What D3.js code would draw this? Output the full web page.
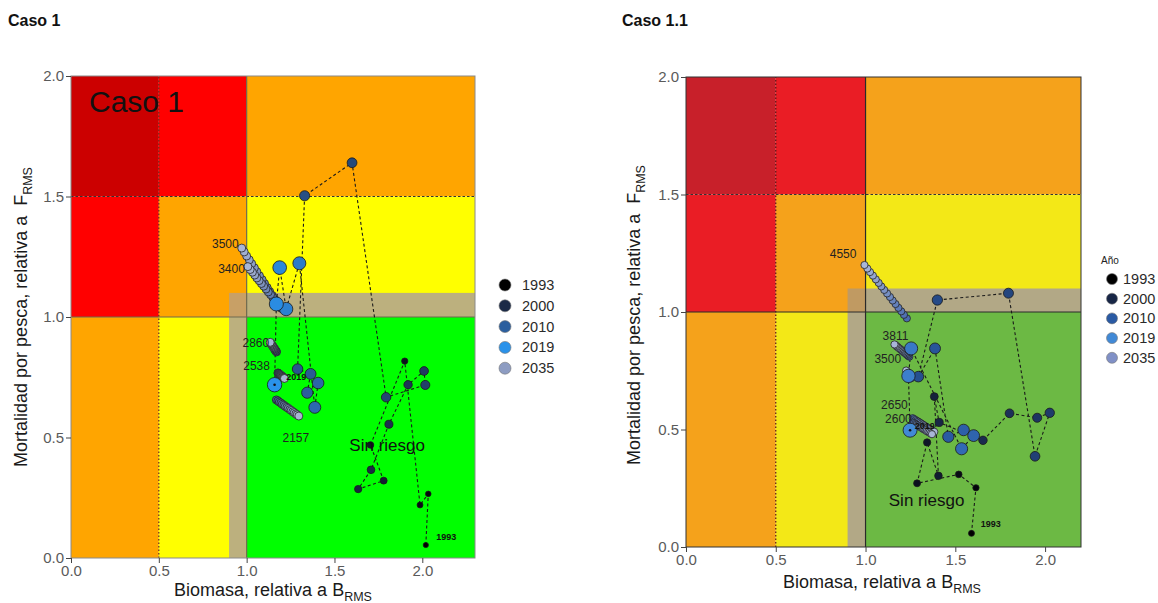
<!DOCTYPE html>
<html>
<head>
<meta charset="utf-8">
<script src="https://cdn.jsdelivr.net/npm/d3@7"></script>
<style>
body { margin: 0; background: #fff; }
svg { display: block; font-family: "Liberation Sans", Arial, sans-serif; }
</style>
</head>
<body>
<svg id="chart" width="1158" height="603"></svg>
<script>
// ---- data ----
var legendYears = [1993, 2000, 2010, 2019, 2035];
var xTicks = [0, 0.5, 1, 1.5, 2];
var yTicks = [0, 0.5, 1, 1.5, 2];
var projYears = [2020, 2021, 2022, 2023, 2024, 2025, 2026, 2027, 2028, 2029, 2030, 2031, 2032, 2033, 2034, 2035];

// Caso 1: historical trajectory (B/Brms, F/Frms)
var c1Years = [1993, 1994, 1995, 1996, 1997, 1998, 1999, 2000, 2001, 2002, 2003, 2004, 2005,
               2006, 2007, 2008, 2009, 2010, 2011, 2012, 2015, 2016, 2017, 2018, 2019];
var c1B = [2.02, 2.034, 1.987, 1.90, 1.705, 1.78, 1.635, 1.708, 1.81, 1.919, 2.01, 2.017, 1.794,
           1.60, 1.33, 1.29, 1.364, 1.345, 1.407, 1.388, 1.30, 1.225, 1.188, 1.169, 1.159];
var c1F = [0.054, 0.266, 0.22, 0.817, 0.469, 0.321, 0.286, 0.366, 0.555, 0.719, 0.776, 0.718, 0.667,
           1.64, 1.503, 0.784, 0.764, 0.686, 0.726, 0.625, 1.223, 1.033, 1.205, 1.054, 0.719];

// Caso 1: projections by catch level (2020 -> 2035)
var c1ProjLabels = ["3500", "3400", "2860", "2538", "2157"];
var c1ProjB = [
  [1.190, 1.175, 1.160, 1.146, 1.131, 1.117, 1.102, 1.088, 1.073, 1.058, 1.044, 1.029, 1.015, 1.000, 0.986, 0.972],
  [1.200, 1.187, 1.174, 1.161, 1.149, 1.136, 1.123, 1.110, 1.097, 1.084, 1.071, 1.058, 1.046, 1.033, 1.020, 1.007],
  [1.170, 1.168, 1.165, 1.163, 1.160, 1.158, 1.156, 1.153, 1.151, 1.148, 1.146, 1.144, 1.141, 1.139, 1.136, 1.134],
  [1.178, 1.180, 1.183, 1.185, 1.188, 1.190, 1.193, 1.195, 1.198, 1.200, 1.203, 1.205, 1.208, 1.210, 1.213, 1.215],
  [1.169, 1.178, 1.186, 1.195, 1.203, 1.212, 1.220, 1.229, 1.237, 1.246, 1.254, 1.263, 1.271, 1.280, 1.288, 1.297]
];
var c1ProjF = [
  [1.040, 1.056, 1.073, 1.089, 1.106, 1.122, 1.139, 1.155, 1.171, 1.188, 1.204, 1.221, 1.237, 1.253, 1.270, 1.286],
  [1.035, 1.047, 1.058, 1.070, 1.081, 1.093, 1.104, 1.116, 1.128, 1.139, 1.151, 1.162, 1.174, 1.186, 1.197, 1.209],
  [0.855, 0.858, 0.860, 0.863, 0.866, 0.868, 0.871, 0.874, 0.876, 0.879, 0.882, 0.884, 0.887, 0.890, 0.892, 0.895],
  [0.768, 0.766, 0.765, 0.763, 0.762, 0.760, 0.759, 0.757, 0.756, 0.754, 0.753, 0.751, 0.750, 0.748, 0.747, 0.745],
  [0.656, 0.652, 0.647, 0.643, 0.638, 0.634, 0.629, 0.625, 0.621, 0.616, 0.612, 0.607, 0.603, 0.598, 0.594, 0.589]
];

// Caso 1.1: historical trajectory
var c11Years = [1993, 1994, 1995, 1996, 1997, 1998, 1999, 2000, 2001, 2002, 2003, 2004,
                2005, 2006, 2007, 2008, 2009, 2010, 2011, 2012, 2013, 2016, 2017, 2019];
var c11B = [1.59, 1.615, 1.519, 1.287, 1.343, 1.406, 1.383, 1.41, 1.654, 1.802, 1.956, 2.026,
            1.944, 1.796, 1.40, 1.294, 1.387, 1.461, 1.546, 1.602, 1.535, 1.254, 1.239, 1.248];
var c11F = [0.058, 0.252, 0.309, 0.271, 0.445, 0.303, 0.64, 0.53, 0.454, 0.569, 0.55, 0.571,
            0.386, 1.08, 1.051, 0.725, 0.845, 0.469, 0.498, 0.474, 0.418, 0.845, 0.728, 0.497];

// Caso 1.1: projections
var c11ProjLabels = ["4550", "3811", "3500", "2650", "2600"];
var c11ProjB = [
  [1.230, 1.214, 1.199, 1.183, 1.167, 1.151, 1.136, 1.120, 1.104, 1.088, 1.073, 1.057, 1.041, 1.025, 1.010, 0.994],
  [1.244, 1.238, 1.233, 1.227, 1.222, 1.216, 1.211, 1.205, 1.200, 1.194, 1.189, 1.183, 1.178, 1.172, 1.167, 1.161],
  [1.254, 1.252, 1.250, 1.248, 1.247, 1.245, 1.243, 1.241, 1.239, 1.237, 1.235, 1.233, 1.232, 1.230, 1.228, 1.226],
  [1.263, 1.271, 1.279, 1.287, 1.295, 1.303, 1.311, 1.319, 1.327, 1.335, 1.343, 1.351, 1.359, 1.367, 1.375, 1.383],
  [1.263, 1.270, 1.277, 1.284, 1.292, 1.299, 1.306, 1.313, 1.320, 1.327, 1.334, 1.341, 1.349, 1.356, 1.363, 1.370]
];
var c11ProjF = [
  [0.973, 0.988, 1.003, 1.018, 1.034, 1.049, 1.064, 1.079, 1.094, 1.109, 1.124, 1.139, 1.155, 1.170, 1.185, 1.200],
  [0.810, 0.813, 0.817, 0.820, 0.824, 0.827, 0.831, 0.834, 0.838, 0.841, 0.845, 0.848, 0.852, 0.855, 0.859, 0.862],
  [0.718, 0.720, 0.722, 0.725, 0.727, 0.729, 0.731, 0.733, 0.736, 0.738, 0.740, 0.742, 0.744, 0.747, 0.749, 0.751],
  [0.548, 0.544, 0.540, 0.536, 0.533, 0.529, 0.525, 0.521, 0.517, 0.513, 0.509, 0.505, 0.502, 0.498, 0.494, 0.490],
  [0.530, 0.527, 0.523, 0.520, 0.517, 0.513, 0.510, 0.507, 0.503, 0.500, 0.497, 0.493, 0.490, 0.487, 0.483, 0.480]
];

var svg = d3.select("#chart");

function drawPanel(p)
{
    var x = d3.scaleLinear().domain([0, p.xMax]).range(p.xRange);
    var y = d3.scaleLinear().domain([0, 2]).range(p.yRange);
    var g = svg.append("g");
    var xm = p.xMax;

    // stock status zones
    var zones = [
        [0, 0.5, 1.5, 2, p.col.dkred], [0.5, 1, 1.5, 2, p.col.red], [1, xm, 1.5, 2, p.col.orange],
        [0, 0.5, 1, 1.5, p.col.red], [0.5, 1, 1, 1.5, p.col.orange], [1, xm, 1, 1.5, p.col.yellow],
        [0, 0.5, 0, 1, p.col.orange], [0.5, 1, 0, 1, p.col.yellow], [1, xm, 0, 1, p.col.green],
        [0.9, 1, 0, 1, p.col.tan], [1, xm, 1, 1.1, p.col.tan], [0.9, 1, 1, 1.1, p.col.tanOr]
    ];
    g.selectAll("rect.zone").data(zones).enter().append("rect")
        .attr("class", "zone")
        .attr("x", function(d){ return x(d[0]); })
        .attr("y", function(d){ return y(d[3]); })
        .attr("width", function(d){ return x(d[1]) - x(d[0]); })
        .attr("height", function(d){ return y(d[2]) - y(d[3]); })
        .attr("fill", function(d){ return d[4]; });

    // reference lines
    g.append("line").attr("x1", x(0.5)).attr("x2", x(0.5)).attr("y1", y(0)).attr("y2", y(2))
        .attr("stroke", p.col.dot).attr("stroke-width", 1.2).attr("stroke-dasharray", "1.5,2");
    g.append("line").attr("x1", x(0)).attr("x2", x(xm)).attr("y1", y(1.5)).attr("y2", y(1.5))
        .attr("stroke", "#333").attr("stroke-width", 1).attr("stroke-dasharray", "2.5,2");
    g.append("line").attr("x1", x(1)).attr("x2", x(1)).attr("y1", y(0)).attr("y2", y(2))
        .attr("stroke", p.col.ref).attr("stroke-width", 1.2);
    g.append("line").attr("x1", x(0)).attr("x2", x(xm)).attr("y1", y(1)).attr("y2", y(1))
        .attr("stroke", p.col.ref).attr("stroke-width", 1.2);
    g.append("rect").attr("x", x(0)).attr("y", y(2)).attr("width", x(xm) - x(0)).attr("height", y(0) - y(2))
        .attr("fill", "none").attr("stroke", p.col.frame).attr("stroke-width", 1);

    // axes
    var xAxis = d3.axisBottom(x).tickValues(xTicks).tickFormat(d3.format(".1f")).tickSize(5).tickPadding(2);
    var yAxis = d3.axisLeft(y).tickValues(yTicks).tickFormat(d3.format(".1f")).tickSize(5).tickPadding(2);
    var gx = g.append("g").attr("transform", "translate(0," + y(0) + ")").call(xAxis);
    var gy = g.append("g").attr("transform", "translate(" + x(0) + ",0)").call(yAxis);
    [gx, gy].forEach(function(a){
        a.select(".domain").remove();
        a.selectAll(".tick line").attr("stroke", "#444");
        a.selectAll(".tick text").attr("fill", "#5a5a5a").style("font-size", "15px")
            .style("font-family", "'Liberation Sans', Arial, sans-serif");
    });

    // axis titles
    var xt = g.append("text").attr("x", p.xTitle[0]).attr("y", p.xTitle[1]).attr("text-anchor", "middle")
        .attr("fill", "#1a1a1a").style("font-size", "18px");
    xt.append("tspan").text("Biomasa, relativa a B");
    xt.append("tspan").text("RMS").attr("dy", 5).style("font-size", "12.5px");
    var yt = g.append("text").attr("transform", "translate(" + p.yTitle[0] + "," + p.yTitle[1] + ") rotate(-90)")
        .attr("text-anchor", "middle").attr("fill", "#1a1a1a").style("font-size", "18px");
    yt.append("tspan").text("Mortalidad por pesca, relativa a\u00a0 F");
    yt.append("tspan").text("RMS").attr("dy", 5).style("font-size", "12.5px");

    var color = d3.scaleLinear().domain(legendYears).range(p.ramp);
    var radius = d3.scaleLinear().domain([1993, 2019]).range(p.rHist);

    // historical trajectory
    var hist = p.years.map(function(yr, i){ return {year: yr, b: p.B[i], f: p.F[i]}; });
    var line = d3.line().x(function(d){ return x(d.b); }).y(function(d){ return y(d.f); });
    g.append("path").datum(hist).attr("d", line).attr("fill", "none")
        .attr("stroke", "#1a1a1a").attr("stroke-width", 1.1).attr("stroke-dasharray", "3,2.5");

    // projections
    p.projLabels.forEach(function(lab, k){
        var pts = projYears.map(function(yr, i){ return {year: yr, b: p.projB[k][i], f: p.projF[k][i]}; });
        g.append("g").selectAll("circle").data(pts).enter().append("circle")
            .attr("cx", function(d){ return x(d.b); })
            .attr("cy", function(d){ return y(d.f); })
            .attr("r", p.rProj)
            .attr("fill", function(d){ return p.projColor(d.year); })
            .attr("stroke", "#252525").attr("stroke-width", 0.8);
        var o = p.projLab[k];
        var anchorPt = o.end === "last" ? pts[pts.length - 1] : pts[0];
        g.append("text").text(lab)
            .attr("x", x(anchorPt.b) + o.dx).attr("y", y(anchorPt.f) + o.dy)
            .attr("dy", "0.35em").attr("text-anchor", o.anchor)
            .attr("fill", "#222").style("font-size", "12px");
    });

    g.append("g").selectAll("circle").data(hist).enter().append("circle")
        .attr("cx", function(d){ return x(d.b); })
        .attr("cy", function(d){ return y(d.f); })
        .attr("r", function(d){ return radius(d.year); })
        .attr("fill", function(d){ return color(d.year); })
        .attr("stroke", "#1a1a1a").attr("stroke-width", 0.8);
    var last = hist[hist.length - 1];
    g.append("circle").attr("cx", x(last.b)).attr("cy", y(last.f)).attr("r", 1.3).attr("fill", "#111");

    // small year labels
    g.append("text").text("1993").attr("x", x(p.lab1993[0])).attr("y", y(p.lab1993[1]))
        .attr("dy", "0.35em").attr("text-anchor", "middle").attr("fill", "#111")
        .style("font-size", "9px").style("font-weight", "bold");
    g.append("text").text("2019").attr("x", x(p.lab2019[0])).attr("y", y(p.lab2019[1]))
        .attr("dy", "0.35em").attr("text-anchor", "middle").attr("fill", "#111")
        .style("font-size", "9px").style("font-weight", "bold");

    g.append("text").text("Sin riesgo").attr("x", x(p.sinRiesgo[0])).attr("y", y(p.sinRiesgo[1]))
        .attr("dy", "0.35em").attr("text-anchor", "middle").attr("fill", "#111").style("font-size", "17px");

    // legend
    var lg = g.append("g").attr("transform", "translate(" + p.legend[0] + "," + p.legend[1] + ")");
    if (p.legendTitle) {
        lg.append("text").text(p.legendTitle).attr("x", -11).attr("y", -19).attr("dy", "0.35em")
            .attr("fill", "#222").style("font-size", "10px");
    }
    legendYears.forEach(function(yr, i){
        lg.append("circle").attr("cx", 0).attr("cy", i * p.legendStep).attr("r", p.legendR)
            .attr("fill", color(yr)).attr("stroke", "#777").attr("stroke-width", 0.6);
        lg.append("text").text(yr).attr("x", p.legendText).attr("y", i * p.legendStep).attr("dy", "0.35em")
            .attr("fill", "#2a2a2a").style("font-size", "14.5px");
    });
    return {x: x, y: y, g: g};
}

// panel titles
svg.append("text").text("Caso 1").attr("x", 8).attr("y", 26)
    .style("font-size", "16px").style("font-weight", "bold").attr("fill", "#111");
svg.append("text").text("Caso 1.1").attr("x", 622).attr("y", 26)
    .style("font-size", "16px").style("font-weight", "bold").attr("fill", "#111");

var left = drawPanel({
    xMax: 2.3, xRange: [71, 475], yRange: [558, 76],
    col: {dkred: "#cc0000", red: "#ff0000", orange: "#ffa500", yellow: "#ffff00", green: "#00ff00",
          tan: "#bcb07e", tanOr: "#c8a066", dot: "#6b2a1a", ref: "#6e6a50", frame: "#8a8a8a"},
    years: c1Years, B: c1B, F: c1F,
    projLabels: c1ProjLabels, projB: c1ProjB, projF: c1ProjF,
    projColor: d3.scaleLinear().domain([2020, 2035]).range(["#3f5f9c", "#a9b6d6"]),
    projLab: [
        {end: "last", dx: -3, dy: -4, anchor: "end"},
        {end: "last", dx: -3, dy: 2, anchor: "end"},
        {end: "last", dx: -1, dy: 0, anchor: "end"},
        {end: "first", dx: -8, dy: -7, anchor: "end"},
        {end: "last", dx: -3, dy: 22, anchor: "middle"}
    ],
    rProj: 4,
    ramp: ["#000000", "#1b2a47", "#2c5f9e", "#2a92ea", "#8d9cc2"],
    rHist: [2.6, 7.2],
    lab1993: [2.136, 0.087], lab2019: [1.282, 0.752], sinRiesgo: [1.80, 0.47],
    xTitle: [273, 596], yTitle: [27, 317],
    legend: [505, 285], legendStep: 20.8, legendR: 6, legendText: 17
});
left.g.append("text").text("Caso 1").attr("x", 89).attr("y", 112)
    .attr("fill", "#111").style("font-size", "30px");

drawPanel({
    xMax: 2.2, xRange: [686, 1081], yRange: [547, 77],
    col: {dkred: "#c8202a", red: "#ea1d25", orange: "#f5a21b", yellow: "#f3e817", green: "#6cb944",
          tan: "#b2a886", tanOr: "#c09a62", dot: "#5a1010", ref: "#2a2a2a", frame: "#333"},
    years: c11Years, B: c11B, F: c11F,
    projLabels: c11ProjLabels, projB: c11ProjB, projF: c11ProjF,
    projColor: d3.scaleLinear().domain([2020, 2035]).range(["#4a6cb0", "#a9b6d8"]),
    projLab: [
        {end: "last", dx: -8, dy: -11, anchor: "end"},
        {end: "last", dx: 1, dy: -9, anchor: "middle"},
        {end: "last", dx: -5, dy: -12, anchor: "end"},
        {end: "first", dx: -5, dy: -13.5, anchor: "end"},
        {end: "first", dx: -1, dy: -4, anchor: "end"}
    ],
    rProj: 3.6,
    ramp: ["#000000", "#182646", "#2a5aa3", "#4189d6", "#8090c6"],
    rHist: [3, 7],
    lab1993: [1.698, 0.097], lab2019: [1.33, 0.515], sinRiesgo: [1.34, 0.20],
    xTitle: [882, 588], yTitle: [640, 315],
    legend: [1112, 279], legendStep: 19.7, legendR: 5.5, legendText: 11,
    legendTitle: "Año"
});
</script>
</body>
</html>
